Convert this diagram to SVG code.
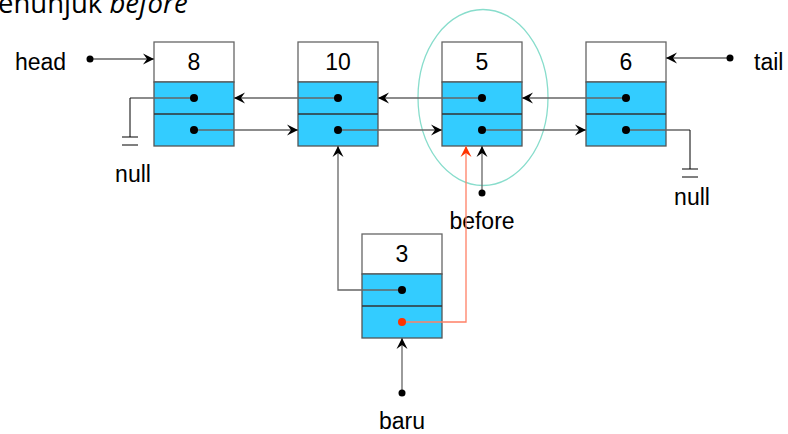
<svg xmlns="http://www.w3.org/2000/svg" width="788" height="434" viewBox="0 0 788 434">
<style>
.hdr{fill:#fff;stroke:#666;stroke-width:1.3}
.body{fill:#33CCFF;stroke:#555;stroke-width:1.3}
.div{stroke:#333;stroke-width:1.3}
.lbl{font-family:"Liberation Sans",Arial,sans-serif;font-size:23px;fill:#000}
.num{font-family:"Liberation Sans",Arial,sans-serif;font-size:23px;fill:#000;text-anchor:middle}
.ln{fill:none;stroke:#666;stroke-width:1.3}
.blk{fill:none;stroke:#000;stroke-width:1}
.red{fill:none;stroke:#FF8066;stroke-width:1.3}
.dot{fill:#000}
</style>
<defs>
<marker id="ah" viewBox="-12 -6 13 12" refX="0" refY="0" markerWidth="13" markerHeight="12" markerUnits="userSpaceOnUse" orient="auto">
<path d="M0,0 L-11,-5.5 L-7,0 L-11,5.5 Z" fill="#000"/>
</marker>
<marker id="ahr" viewBox="-12 -6 13 12" refX="0" refY="0" markerWidth="13" markerHeight="12" markerUnits="userSpaceOnUse" orient="auto">
<path d="M0,0 L-11,-5.5 L-7,0 L-11,5.5 Z" fill="#FF3300"/>
</marker>
</defs>
<rect width="788" height="434" fill="#fff"/>
<text x="-2" y="13" font-family="'Open Sans','Noto Sans',sans-serif" font-size="27.5" fill="#000">enunjuk <tspan font-style="italic">before</tspan></text>

<ellipse id="highlight" cx="483" cy="97.5" rx="65" ry="88" fill="none" stroke="#88DDCC" stroke-width="1.3"/>

<g id="node8">
<rect class="hdr" x="154" y="42" width="80" height="40"/>
<rect class="body" x="154" y="82" width="80" height="64"/>
<line class="div" x1="154" y1="114" x2="234" y2="114"/>
<text class="num" x="194" y="70">8</text>
</g>
<g id="node10">
<rect class="hdr" x="298" y="42" width="80" height="40"/>
<rect class="body" x="298" y="82" width="80" height="64"/>
<line class="div" x1="298" y1="114" x2="378" y2="114"/>
<text class="num" x="338" y="70">10</text>
</g>
<g id="node5">
<rect class="hdr" x="442" y="42" width="80" height="40"/>
<rect class="body" x="442" y="82" width="80" height="64"/>
<line class="div" x1="442" y1="114" x2="522" y2="114"/>
<text class="num" x="482" y="70">5</text>
</g>
<g id="node6">
<rect class="hdr" x="586" y="42" width="80" height="40"/>
<rect class="body" x="586" y="82" width="80" height="64"/>
<line class="div" x1="586" y1="114" x2="666" y2="114"/>
<text class="num" x="626" y="70">6</text>
</g>
<g id="node3">
<rect class="hdr" x="362" y="234" width="80" height="40"/>
<rect class="body" x="362" y="274" width="80" height="64"/>
<line class="div" x1="362" y1="306" x2="442" y2="306"/>
<text class="num" x="402" y="262">3</text>
</g>

<g id="labels">
<text class="lbl" x="15" y="70">head</text>
<text class="lbl" x="754" y="70">tail</text>
<text class="lbl" x="133" y="182" text-anchor="middle">null</text>
<text class="lbl" x="692" y="205" text-anchor="middle">null</text>
<text class="lbl" x="482" y="229" text-anchor="middle">before</text>
<text class="lbl" x="402" y="429" text-anchor="middle">baru</text>
</g>

<g id="connectors">
<line class="ln" x1="90" y1="59" x2="154" y2="59" marker-end="url(#ah)"/>
<line class="ln" x1="730" y1="58" x2="666" y2="58" marker-end="url(#ah)"/>
<line class="ln" x1="338" y1="98" x2="234" y2="98" marker-end="url(#ah)"/>
<line class="ln" x1="482" y1="98" x2="378" y2="98" marker-end="url(#ah)"/>
<line class="ln" x1="626" y1="98" x2="522" y2="98" marker-end="url(#ah)"/>
<line class="ln" x1="194" y1="130" x2="298" y2="130" marker-end="url(#ah)"/>
<line class="ln" x1="338" y1="130" x2="442" y2="130" marker-end="url(#ah)"/>
<line class="ln" x1="482" y1="130" x2="586" y2="130" marker-end="url(#ah)"/>
<line class="ln" x1="194" y1="98" x2="130" y2="98"/>
<polyline class="blk" points="130,98 130,137"/>
<line class="blk" x1="122" y1="137" x2="138" y2="137"/>
<line class="blk" x1="122" y1="145" x2="138" y2="145"/>
<line class="ln" x1="626" y1="130" x2="690" y2="130"/>
<polyline class="blk" points="690,130 690,169"/>
<line class="blk" x1="682" y1="169" x2="698" y2="169"/>
<line class="blk" x1="682" y1="177" x2="698" y2="177"/>
<line class="ln" x1="482" y1="193" x2="482" y2="146" marker-end="url(#ah)"/>
<polyline class="ln" points="402,290 338,290 338,146" marker-end="url(#ah)"/>
<polyline class="red" points="402,322 466,322 466,146" marker-end="url(#ahr)"/>
<line class="ln" x1="402" y1="393" x2="402" y2="338" marker-end="url(#ah)"/>
</g>

<g id="dots">
<circle class="dot" cx="90" cy="59" r="3.5"/>
<circle class="dot" cx="730" cy="58" r="3.5"/>
<circle class="dot" cx="194" cy="98" r="4"/>
<circle class="dot" cx="194" cy="130" r="4"/>
<circle class="dot" cx="338" cy="98" r="4"/>
<circle class="dot" cx="338" cy="130" r="4"/>
<circle class="dot" cx="482" cy="98" r="4"/>
<circle class="dot" cx="482" cy="130" r="4"/>
<circle class="dot" cx="626" cy="98" r="4"/>
<circle class="dot" cx="626" cy="130" r="4"/>
<circle class="dot" cx="482" cy="193" r="3.5"/>
<circle class="dot" cx="402" cy="290" r="4"/>
<circle cx="402" cy="322" r="4" fill="#FF3300"/>
<circle class="dot" cx="402" cy="393" r="3.5"/>
</g>
</svg>
